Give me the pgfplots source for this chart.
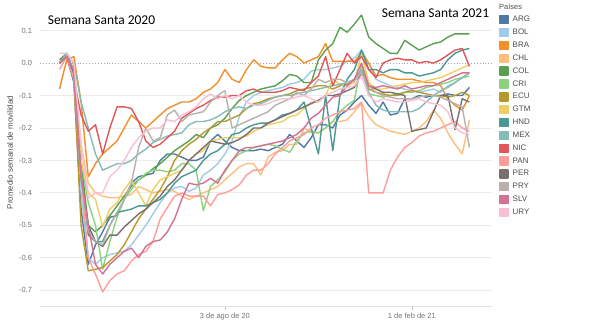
\documentclass[border=0pt]{standalone}
\usepackage{pgfplots}
\pgfplotsset{compat=1.18}
\usepackage{fontspec}
\setmainfont{Liberation Sans}
\newfontfamily\calib{Carlito}
\definecolor{cARG}{HTML}{4E79A7}
\definecolor{cBOL}{HTML}{A0CBE8}
\definecolor{cBRA}{HTML}{F28E2B}
\definecolor{cCHL}{HTML}{FFBE7D}
\definecolor{cCOL}{HTML}{59A14F}
\definecolor{cCRI}{HTML}{8CD17D}
\definecolor{cECU}{HTML}{B6992D}
\definecolor{cGTM}{HTML}{F1CE63}
\definecolor{cHND}{HTML}{499894}
\definecolor{cMEX}{HTML}{86BCB6}
\definecolor{cNIC}{HTML}{E15759}
\definecolor{cPAN}{HTML}{FF9D9A}
\definecolor{cPER}{HTML}{79706E}
\definecolor{cPRY}{HTML}{BAB0AC}
\definecolor{cSLV}{HTML}{D37295}
\definecolor{cURY}{HTML}{FABFD2}
\pgfplotsset{/pgfplots/table/wk/.style={header=false, x expr=\coordindex, y index=0, row sep=\\}}
\pgfplotsset{sqlegend/.style={legend image code/.code={\fill[##1] (0bp,-4bp) rectangle (8bp,4bp);}}}
\begin{document}
\begin{tikzpicture}[x=1bp,y=1bp]
\path[use as bounding box] (0,0) rectangle (589,326);
\begin{axis}[
 at={(40bp,19.5bp)}, anchor=south west,
 scale only axis, width=452bp, height=305.1bp,
 xmin=-2.714, xmax=60.143, ymin=-0.75, ymax=0.19,
 axis line style={draw=none},
 xtick={23,49}, xticklabels={3 de ago de 20,1 de feb de 21},
 ytick={-0.7,-0.6,-0.5,-0.4,-0.3,-0.2,-0.1,0.1},
 yticklabels={-0.7,-0.6,-0.5,-0.4,-0.3,-0.2,-0.1,0.1},
 extra y ticks={0}, extra y tick labels={0.0},
 extra y tick style={grid=major, grid style={dotted, color=black!35, line width=0.8bp}},
 ymajorgrids, grid style={color=black!8, line width=0.9bp},
 tick label style={font=\fontsize{7.5}{9}\selectfont, text=black!55},
 yticklabel style={xshift=-1.5bp},
 major tick length=3bp, tick align=outside, tick pos=left,
 ytick style={draw=none}, xtick style={color=black!25, line width=0.6bp},
 every axis plot/.append style={line width=1.4bp, line join=round},
 legend style={draw=none, fill=none, at={(1.0155,0.956)}, anchor=north west,
   font=\fontsize{8}{9}\selectfont, text=black!70, row sep=3.45bp, inner sep=0pt,
   nodes={inner sep=0.6bp},
   /tikz/every odd column/.append style={column sep=3.5bp}},
 legend cell align=left,
 sqlegend,
]
\draw[black!12, line width=0.9bp] (rel axis cs:0,0) -- (rel axis cs:1,0);
\addplot[color=cARG] table[wk] {0.0\\0.02\\-0.06\\-0.45\\-0.62\\-0.56\\-0.52\\-0.475\\-0.47\\-0.42\\-0.37\\-0.35\\-0.345\\-0.34\\-0.3\\-0.28\\-0.28\\-0.29\\-0.3\\-0.3\\-0.29\\-0.24\\-0.22\\-0.24\\-0.26\\-0.27\\-0.27\\-0.27\\-0.265\\-0.27\\-0.26\\-0.25\\-0.22\\-0.24\\-0.26\\-0.23\\-0.19\\-0.19\\-0.2\\-0.16\\-0.145\\-0.12\\-0.1\\-0.13\\-0.155\\-0.12\\-0.16\\-0.155\\-0.11\\-0.11\\-0.1\\-0.105\\-0.1\\-0.1\\-0.095\\-0.1\\-0.1\\-0.075\\};
\addplot[color=cBOL] table[wk] {0.0\\0.03\\-0.03\\-0.4\\-0.6\\-0.62\\-0.6\\-0.59\\-0.585\\-0.58\\-0.56\\-0.53\\-0.5\\-0.465\\-0.43\\-0.4\\-0.385\\-0.38\\-0.395\\-0.385\\-0.345\\-0.33\\-0.31\\-0.28\\-0.24\\-0.165\\-0.12\\-0.1\\-0.09\\-0.085\\-0.08\\-0.075\\-0.065\\-0.06\\-0.05\\-0.025\\-0.02\\-0.02\\-0.015\\-0.01\\0.005\\0.015\\0.04\\0.0\\-0.05\\-0.06\\-0.07\\-0.075\\-0.08\\-0.085\\-0.09\\-0.085\\-0.08\\-0.09\\-0.07\\-0.06\\-0.045\\-0.03\\};
\addplot[color=cBRA] table[wk] {-0.08\\0.01\\0.02\\-0.12\\-0.35\\-0.31\\-0.28\\-0.26\\-0.24\\-0.2\\-0.16\\-0.18\\-0.2\\-0.18\\-0.16\\-0.14\\-0.13\\-0.12\\-0.12\\-0.11\\-0.09\\-0.08\\-0.06\\-0.02\\-0.05\\-0.06\\-0.02\\0.01\\-0.01\\-0.015\\-0.015\\0.01\\0.03\\0.02\\0.0\\0.01\\0.02\\0.06\\0.005\\0.005\\0.005\\0.005\\0.03\\0.0\\-0.04\\-0.035\\-0.045\\-0.05\\-0.05\\-0.05\\-0.055\\-0.06\\-0.06\\-0.07\\-0.11\\-0.13\\-0.145\\-0.1\\};
\addplot[color=cCHL] table[wk] {0.0\\0.025\\-0.03\\-0.25\\-0.37\\-0.4\\-0.41\\-0.415\\-0.415\\-0.41\\-0.405\\-0.38\\-0.39\\-0.4\\-0.395\\-0.39\\-0.395\\-0.41\\-0.42\\-0.41\\-0.4\\-0.39\\-0.38\\-0.36\\-0.34\\-0.32\\-0.31\\-0.31\\-0.345\\-0.29\\-0.275\\-0.27\\-0.25\\-0.25\\-0.2\\-0.215\\-0.215\\-0.2\\-0.18\\-0.18\\-0.175\\-0.15\\-0.125\\-0.165\\-0.19\\-0.2\\-0.21\\-0.215\\-0.22\\-0.21\\-0.2\\-0.18\\-0.145\\-0.17\\-0.215\\-0.25\\-0.28\\-0.175\\};
\addplot[color=cCOL] table[wk] {0.01\\0.03\\0.0\\-0.3\\-0.5\\-0.52\\-0.5\\-0.47\\-0.44\\-0.41\\-0.38\\-0.36\\-0.345\\-0.325\\-0.31\\-0.29\\-0.27\\-0.255\\-0.24\\-0.22\\-0.23\\-0.2\\-0.19\\-0.17\\-0.14\\-0.115\\-0.1\\-0.09\\-0.08\\-0.075\\-0.07\\-0.055\\-0.035\\-0.04\\-0.06\\-0.06\\0.01\\0.04\\0.06\\0.11\\0.095\\0.12\\0.148\\0.08\\0.06\\0.045\\0.03\\0.03\\0.07\\0.055\\0.04\\0.05\\0.06\\0.065\\0.08\\0.09\\0.09\\0.09\\};
\addplot[color=cCRI] table[wk] {0.0\\0.025\\-0.02\\-0.3\\-0.43\\-0.5\\-0.635\\-0.55\\-0.475\\-0.42\\-0.39\\-0.36\\-0.34\\-0.33\\-0.33\\-0.335\\-0.33\\-0.31\\-0.31\\-0.33\\-0.455\\-0.38\\-0.36\\-0.335\\-0.3\\-0.28\\-0.27\\-0.26\\-0.255\\-0.25\\-0.255\\-0.265\\-0.275\\-0.24\\-0.215\\-0.21\\-0.215\\-0.2\\-0.18\\-0.15\\-0.13\\-0.115\\0.0\\-0.095\\-0.1\\-0.105\\-0.1\\-0.095\\-0.09\\-0.09\\-0.085\\-0.075\\-0.07\\-0.065\\-0.06\\-0.05\\-0.045\\-0.04\\};
\addplot[color=cECU] table[wk] {0.0\\0.02\\-0.05\\-0.5\\-0.64\\-0.635\\-0.63\\-0.61\\-0.59\\-0.56\\-0.52\\-0.48\\-0.45\\-0.42\\-0.39\\-0.35\\-0.3\\-0.27\\-0.25\\-0.235\\-0.215\\-0.2\\-0.18\\-0.18\\-0.17\\-0.16\\-0.14\\-0.125\\-0.12\\-0.11\\-0.105\\-0.1\\-0.095\\-0.085\\-0.08\\-0.075\\-0.07\\-0.07\\-0.08\\-0.07\\-0.065\\-0.05\\-0.02\\-0.08\\-0.09\\-0.095\\-0.1\\-0.1\\-0.09\\-0.085\\-0.09\\-0.095\\-0.1\\-0.1\\-0.105\\-0.1\\-0.09\\-0.1\\};
\addplot[color=cGTM] table[wk] {0.0\\0.02\\-0.03\\-0.3\\-0.4\\-0.42\\-0.505\\-0.45\\-0.43\\-0.39\\-0.36\\-0.4\\-0.44\\-0.39\\-0.36\\-0.35\\-0.34\\-0.33\\-0.3\\-0.28\\-0.27\\-0.24\\-0.235\\-0.23\\-0.23\\-0.23\\-0.225\\-0.21\\-0.2\\-0.19\\-0.185\\-0.18\\-0.165\\-0.16\\-0.14\\-0.12\\-0.12\\-0.1\\-0.05\\-0.065\\-0.07\\-0.06\\0.03\\-0.06\\-0.08\\-0.08\\-0.075\\-0.07\\-0.065\\-0.06\\-0.06\\-0.055\\-0.05\\-0.045\\-0.035\\-0.025\\-0.015\\-0.005\\};
\addplot[color=cHND] table[wk] {0.0\\0.03\\-0.03\\-0.35\\-0.53\\-0.55\\-0.55\\-0.5\\-0.46\\-0.455\\-0.45\\-0.44\\-0.44\\-0.43\\-0.42\\-0.4\\-0.37\\-0.35\\-0.34\\-0.33\\-0.3\\-0.28\\-0.27\\-0.25\\-0.22\\-0.215\\-0.2\\-0.19\\-0.185\\-0.185\\-0.175\\-0.16\\-0.155\\-0.145\\-0.12\\-0.2\\-0.28\\-0.1\\-0.27\\-0.1\\-0.05\\-0.02\\0.04\\-0.02\\-0.02\\-0.03\\-0.02\\-0.02\\-0.03\\-0.03\\-0.04\\-0.035\\-0.03\\-0.02\\0.01\\0.03\\0.04\\0.045\\};
\addplot[color=cMEX] table[wk] {0.0\\0.03\\0.0\\-0.12\\-0.2\\-0.28\\-0.33\\-0.32\\-0.31\\-0.31\\-0.3\\-0.28\\-0.265\\-0.245\\-0.235\\-0.225\\-0.22\\-0.215\\-0.19\\-0.18\\-0.18\\-0.175\\-0.165\\-0.15\\-0.14\\-0.135\\-0.14\\-0.13\\-0.125\\-0.115\\-0.105\\-0.1\\-0.1\\-0.095\\-0.09\\-0.085\\-0.08\\-0.075\\-0.07\\-0.065\\-0.06\\-0.05\\-0.02\\-0.09\\-0.13\\-0.145\\-0.15\\-0.15\\-0.15\\-0.15\\-0.14\\-0.12\\-0.1\\-0.085\\-0.075\\-0.06\\-0.045\\-0.03\\};
\addplot[color=cNIC] table[wk] {0.0\\0.02\\-0.05\\-0.16\\-0.21\\-0.19\\-0.28\\-0.2\\-0.135\\-0.135\\-0.14\\-0.18\\-0.24\\-0.26\\-0.25\\-0.23\\-0.21\\-0.17\\-0.155\\-0.14\\-0.13\\-0.115\\-0.105\\-0.105\\-0.1\\-0.1\\-0.085\\-0.08\\-0.09\\-0.09\\-0.09\\-0.085\\-0.075\\-0.08\\-0.085\\-0.06\\-0.04\\0.02\\-0.07\\-0.02\\0.03\\0.0\\0.02\\-0.02\\-0.045\\0.0\\0.01\\0.015\\0.01\\0.01\\0.0\\0.005\\0.0\\0.01\\0.025\\0.04\\0.045\\-0.01\\};
\addplot[color=cPAN] table[wk] {-0.02\\0.02\\-0.05\\-0.35\\-0.6\\-0.65\\-0.705\\-0.67\\-0.65\\-0.64\\-0.61\\-0.59\\-0.58\\-0.55\\-0.48\\-0.445\\-0.41\\-0.4\\-0.41\\-0.41\\-0.41\\-0.44\\-0.405\\-0.4\\-0.39\\-0.375\\-0.345\\-0.33\\-0.33\\-0.31\\-0.28\\-0.26\\-0.24\\-0.23\\-0.22\\-0.2\\-0.19\\-0.17\\-0.16\\-0.15\\-0.145\\-0.14\\-0.12\\-0.4\\-0.4\\-0.4\\-0.33\\-0.29\\-0.26\\-0.245\\-0.225\\-0.215\\-0.21\\-0.2\\-0.19\\-0.18\\-0.2\\-0.21\\};
\addplot[color=cPER] table[wk] {0.0\\0.02\\-0.03\\-0.35\\-0.5\\-0.55\\-0.565\\-0.53\\-0.53\\-0.505\\-0.485\\-0.465\\-0.45\\-0.43\\-0.41\\-0.38\\-0.36\\-0.33\\-0.3\\-0.28\\-0.26\\-0.24\\-0.245\\-0.25\\-0.245\\-0.235\\-0.22\\-0.2\\-0.2\\-0.185\\-0.175\\-0.165\\-0.155\\-0.145\\-0.135\\-0.125\\-0.115\\-0.1\\-0.1\\-0.095\\-0.085\\-0.075\\-0.03\\-0.07\\-0.08\\-0.09\\-0.09\\-0.095\\-0.1\\-0.21\\-0.205\\-0.2\\-0.15\\-0.1\\-0.1\\-0.205\\-0.11\\-0.12\\};
\addplot[color=cPRY] table[wk] {0.0\\0.02\\-0.02\\-0.35\\-0.52\\-0.55\\-0.56\\-0.5\\-0.46\\-0.42\\-0.37\\-0.26\\-0.2\\-0.24\\-0.23\\-0.16\\-0.145\\-0.18\\-0.16\\-0.155\\-0.15\\-0.12\\-0.1\\-0.085\\-0.2\\-0.19\\-0.18\\-0.17\\-0.16\\-0.15\\-0.13\\-0.12\\-0.11\\-0.09\\-0.1\\-0.08\\-0.05\\-0.06\\-0.05\\-0.05\\-0.06\\-0.055\\-0.03\\-0.07\\-0.09\\-0.1\\-0.105\\-0.11\\-0.11\\-0.11\\-0.105\\-0.1\\-0.1\\-0.105\\-0.115\\-0.125\\-0.135\\-0.26\\};
\addplot[color=cSLV] table[wk] {0.0\\0.02\\-0.02\\-0.35\\-0.5\\-0.62\\-0.65\\-0.62\\-0.6\\-0.58\\-0.57\\-0.6\\-0.565\\-0.55\\-0.545\\-0.52\\-0.48\\-0.42\\-0.37\\-0.375\\-0.37\\-0.355\\-0.37\\-0.33\\-0.3\\-0.27\\-0.26\\-0.26\\-0.255\\-0.25\\-0.245\\-0.24\\-0.23\\-0.22\\-0.2\\-0.17\\-0.155\\-0.13\\-0.105\\-0.1\\-0.07\\-0.05\\0.0\\-0.07\\-0.075\\-0.07\\-0.075\\-0.08\\-0.07\\-0.08\\-0.075\\-0.07\\-0.07\\-0.06\\-0.05\\-0.04\\-0.03\\-0.03\\};
\addplot[color=cURY] table[wk] {0.03\\0.03\\0.0\\-0.25\\-0.415\\-0.4\\-0.4\\-0.35\\-0.33\\-0.3\\-0.26\\-0.23\\-0.21\\-0.2\\-0.2\\-0.175\\-0.18\\-0.16\\-0.15\\-0.135\\-0.11\\-0.095\\-0.11\\-0.1\\-0.11\\-0.1\\-0.12\\-0.13\\-0.13\\-0.125\\-0.115\\-0.11\\-0.11\\-0.105\\-0.1\\-0.11\\-0.12\\-0.1\\-0.09\\-0.08\\-0.075\\-0.07\\-0.04\\-0.1\\-0.12\\-0.11\\-0.115\\-0.12\\-0.12\\-0.115\\-0.11\\-0.12\\-0.125\\-0.13\\-0.15\\-0.2\\-0.215\\-0.22\\};
\legend{ARG,BOL,BRA,CHL,COL,CRI,ECU,GTM,HND,MEX,NIC,PAN,PER,PRY,SLV,URY}
\end{axis}
\node[anchor=base, font=\calib\fontsize{13.5}{15}\selectfont] at (101.5,302) {Semana Santa 2020};
\node[anchor=base, font=\calib\fontsize{13.5}{15}\selectfont] at (435.5,308.7) {Semana Santa 2021};
\node[anchor=west, font=\fontsize{7.5}{9}\selectfont, text=black!70, inner sep=0pt] at (499,319.5) {Países};
\node[rotate=90, font=\fontsize{8}{9}\selectfont, text=black!70] at (10,173.5) {Promedio semanal de movilidad};
\end{tikzpicture}
\end{document}
